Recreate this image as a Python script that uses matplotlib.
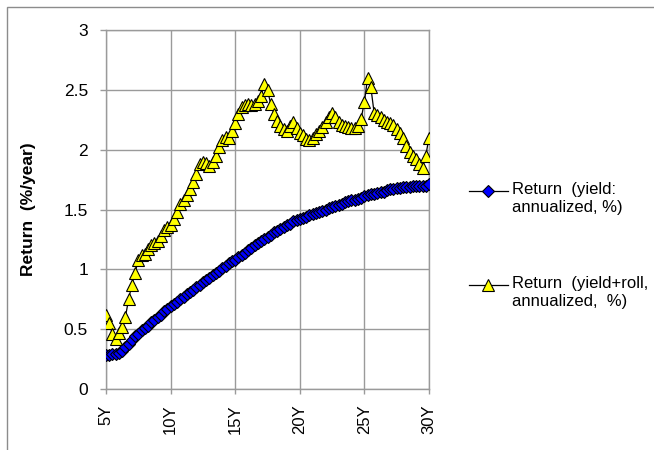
import matplotlib
matplotlib.use("Agg")
import matplotlib.pyplot as plt
from matplotlib.lines import Line2D
from matplotlib.patches import Rectangle
import numpy as np

plt.rcParams['font.family'] = ['Liberation Sans', 'DejaVu Sans']

# Maturity grid (years), quarterly steps from 5Y to 30Y
maturity = np.arange(5.0, 30.0001, 0.25)

# Return from yield only, annualized (%)
ret_yield = [
    0.28, 0.28, 0.29, 0.29, 0.30, 0.32, 0.35, 0.38, 0.41, 0.44,
    0.46, 0.49, 0.51, 0.53, 0.56, 0.58, 0.60, 0.62, 0.65, 0.67,
    0.69, 0.71, 0.73, 0.75, 0.77, 0.79, 0.81, 0.83, 0.85, 0.87,
    0.89, 0.91, 0.93, 0.95, 0.97, 0.99, 1.01, 1.03, 1.05, 1.07,
    1.08, 1.10, 1.12, 1.14, 1.16, 1.18, 1.20, 1.22, 1.24, 1.25,
    1.27, 1.29, 1.31, 1.32, 1.34, 1.35, 1.37, 1.38, 1.40, 1.41,
    1.42, 1.43, 1.44, 1.45, 1.46, 1.47, 1.48, 1.49, 1.50, 1.51,
    1.52, 1.53, 1.54, 1.55, 1.56, 1.57, 1.58, 1.58, 1.59, 1.60,
    1.61, 1.62, 1.63, 1.63, 1.64, 1.65, 1.65, 1.66, 1.67, 1.67,
    1.68, 1.68, 1.69, 1.69, 1.69, 1.70, 1.70, 1.70, 1.70, 1.70,
    1.71,
]

# Return from yield plus roll-down, annualized (%)
ret_yield_roll = [
    0.62, 0.55, 0.46, 0.42, 0.47, 0.52, 0.60, 0.75, 0.87, 0.97,
    1.08, 1.12, 1.13, 1.17, 1.20, 1.22, 1.24, 1.28, 1.33, 1.35,
    1.37, 1.42, 1.48, 1.55, 1.58, 1.62, 1.67, 1.73, 1.80, 1.88,
    1.90, 1.89, 1.86, 1.90, 1.95, 2.02, 2.08, 2.11, 2.10, 2.16,
    2.22, 2.30, 2.36, 2.37, 2.38, 2.37, 2.38, 2.41, 2.45, 2.55,
    2.50, 2.38, 2.30, 2.24, 2.20, 2.17, 2.16, 2.20, 2.23, 2.18,
    2.14, 2.12, 2.09, 2.08, 2.10, 2.13, 2.16, 2.19, 2.23, 2.27,
    2.31, 2.27, 2.23, 2.21, 2.20, 2.19, 2.18, 2.18, 2.20, 2.26,
    2.40, 2.60, 2.52, 2.31, 2.29, 2.27, 2.25, 2.23, 2.22, 2.21,
    2.17, 2.14, 2.10, 2.03, 1.98, 1.95, 1.92, 1.88, 1.85, 1.95,
    2.10,
]

tick_years = [5, 10, 15, 20, 25, 30]
tick_labels = ["5Y", "10Y", "15Y", "20Y", "25Y", "30Y"]
y_ticks = [0, 0.5, 1, 1.5, 2, 2.5, 3]
y_tick_labels = ["0", "0.5", "1", "1.5", "2", "2.5", "3"]

label_yield = "Return  (yield:\nannualized, %)"
label_roll = "Return  (yield+roll,\nannualized,  %)"

W, H = 654, 450
fig = plt.figure(figsize=(W / 100, H / 100), dpi=100)
fig.patch.set_facecolor("white")

# plot area in pixel terms
left, right, top, bottom = 106, 429, 30, 389
ax = fig.add_axes([left / W, 1 - bottom / H, (right - left) / W, (bottom - top) / H])

grid_col = "#9a9a9a"
ax.plot(maturity, ret_yield, color="black", lw=0.9, marker="D", ms=6.5,
        mfc="#0000ff", mec="black", mew=0.8, zorder=3)
ax.plot(maturity, ret_yield_roll, color="black", lw=0.9, marker="^", ms=9,
        mfc="#ffff00", mec="black", mew=0.8, zorder=4)

ax.set_xlim(5, 30)
ax.set_ylim(0, 3)
ax.set_xticks(tick_years)
ax.set_xticklabels(tick_labels, rotation=90)
ax.set_yticks(y_ticks)
ax.set_yticklabels(y_tick_labels)
ax.grid(True, color=grid_col, lw=1.0)
ax.set_axisbelow(True)
for s in ax.spines.values():
    s.set_color(grid_col)
    s.set_linewidth(1.0)
ax.tick_params(axis="y", length=4.5, width=1.0, color=grid_col, pad=8.5, labelsize=12.5)
ax.tick_params(axis="x", length=3.5, width=1.0, color=grid_col, pad=7.5, labelsize=12)
ax.set_ylabel("Return  (%/year)", fontsize=12.5, fontweight="bold")
ax.yaxis.set_label_coords(-(106 - 36) / (right - left), 0.5)

# legend drawn next to the plot area
def fx(px):
    return px / W

def fy(py):
    return 1 - py / H

entries = [
    (191, "D", "#0000ff", 6.5, label_yield),
    (285, "^", "#ffff00", 9, label_roll),
]
for y, mk, fc, ms, txt in entries:
    fig.add_artist(Line2D([fx(469), fx(508)], [fy(y), fy(y)], color="black", lw=0.9,
                          transform=fig.transFigure))
    fig.add_artist(Line2D([fx(488)], [fy(y)], marker=mk, ms=ms, mfc=fc, mec="black",
                          mew=0.8, lw=0, transform=fig.transFigure))
    fig.text(fx(512), fy(y - 9), txt, fontsize=12, va="top", ha="left",
             linespacing=1.25)

# outer frame around the chart area
fig.add_artist(Rectangle((fx(6.5), fy(460)), fx(700), fy(6.5) - fy(460), fill=False,
                         edgecolor="#8c8c8c", lw=1.0, transform=fig.transFigure))

fig.savefig("out.png", dpi=100)
